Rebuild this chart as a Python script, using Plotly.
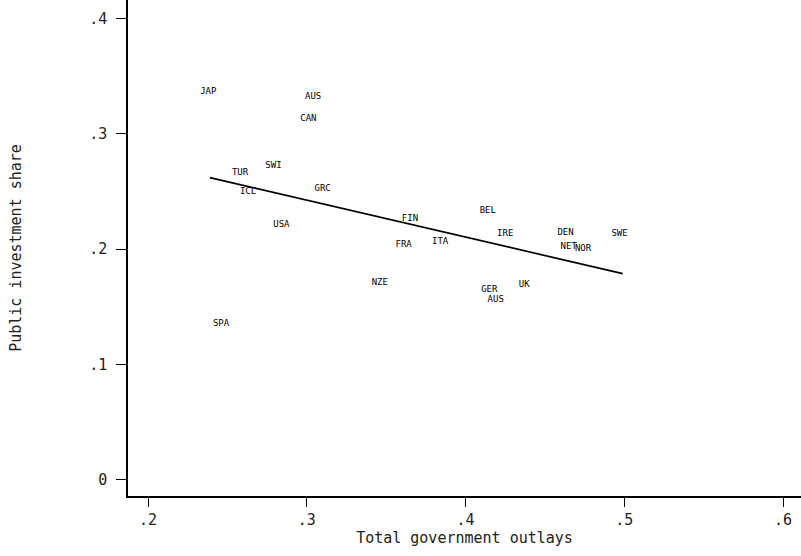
import plotly.graph_objects as go

countries = ["JAP", "AUS", "CAN", "SWI", "TUR", "ICL", "GRC", "USA", "FIN", "FRA", "ITA",
             "NZE", "BEL", "IRE", "DEN", "NET", "NOR", "SWE", "GER", "AUS", "UK", "SPA"]
outlays = [0.238, 0.304, 0.301, 0.279, 0.258, 0.263, 0.310, 0.284, 0.365, 0.361, 0.384,
           0.346, 0.414, 0.425, 0.463, 0.465, 0.474, 0.497, 0.415, 0.419, 0.437, 0.246]
invest = [0.337, 0.332, 0.313, 0.272, 0.266, 0.250, 0.252, 0.221, 0.226, 0.204, 0.206,
          0.171, 0.233, 0.213, 0.214, 0.202, 0.200, 0.213, 0.165, 0.156, 0.169, 0.135]

fit_x = [0.239, 0.499]
fit_y = [0.262, 0.1787]

x_ticks = [0.2, 0.3, 0.4, 0.5, 0.6]
x_tick_labels = [".2", ".3", ".4", ".5", ".6"]
y_ticks = [0.0, 0.1, 0.2, 0.3, 0.4]
y_tick_labels = ["0", ".1", ".2", ".3", ".4"]

mono = "DejaVu Sans Mono"

fig = go.Figure()
fig.add_trace(go.Scatter(x=fit_x, y=fit_y, mode="lines",
                         line=dict(color="black", width=1.7), hoverinfo="skip"))
fig.add_trace(go.Scatter(x=outlays, y=invest, mode="text", text=countries,
                         textposition="middle center",
                         textfont=dict(family=mono, size=9, color="black")))

fig.update_layout(
    width=801, height=556,
    margin=dict(l=128, r=0, t=0, b=60, autoexpand=False),
    paper_bgcolor="white", plot_bgcolor="white",
    showlegend=False,
    font=dict(family=mono, color="#222"),
)
fig.update_xaxes(
    range=[0.1874, 0.6113], showgrid=False, zeroline=False, automargin=False,
    showline=True, linecolor="black", linewidth=1.5,
    ticks="outside", ticklen=9, tickcolor="black", tickwidth=1,
    tickvals=x_ticks, ticktext=x_tick_labels,
    tickfont=dict(family=mono, size=15, color="#222"),
    title=dict(text="Total government outlays", font=dict(family=mono, size=15, color="#222"),
               standoff=3),
)
fig.update_yaxes(
    range=[-0.0143, 0.4162], showgrid=False, zeroline=False, automargin=False,
    showline=True, linecolor="black", linewidth=1.5,
    ticks="outside", ticklen=10, tickcolor="black", tickwidth=1,
    tickvals=y_ticks, ticktext=y_tick_labels, ticklabelstandoff=6,
    tickfont=dict(family=mono, size=15, color="#222"),
    title=dict(text="Public investment share", font=dict(family=mono, size=15, color="#222"),
               standoff=64),
)

fig.write_html("out.html", config={"displayModeBar": False},
               post_script="document.body.style.margin='0';")
